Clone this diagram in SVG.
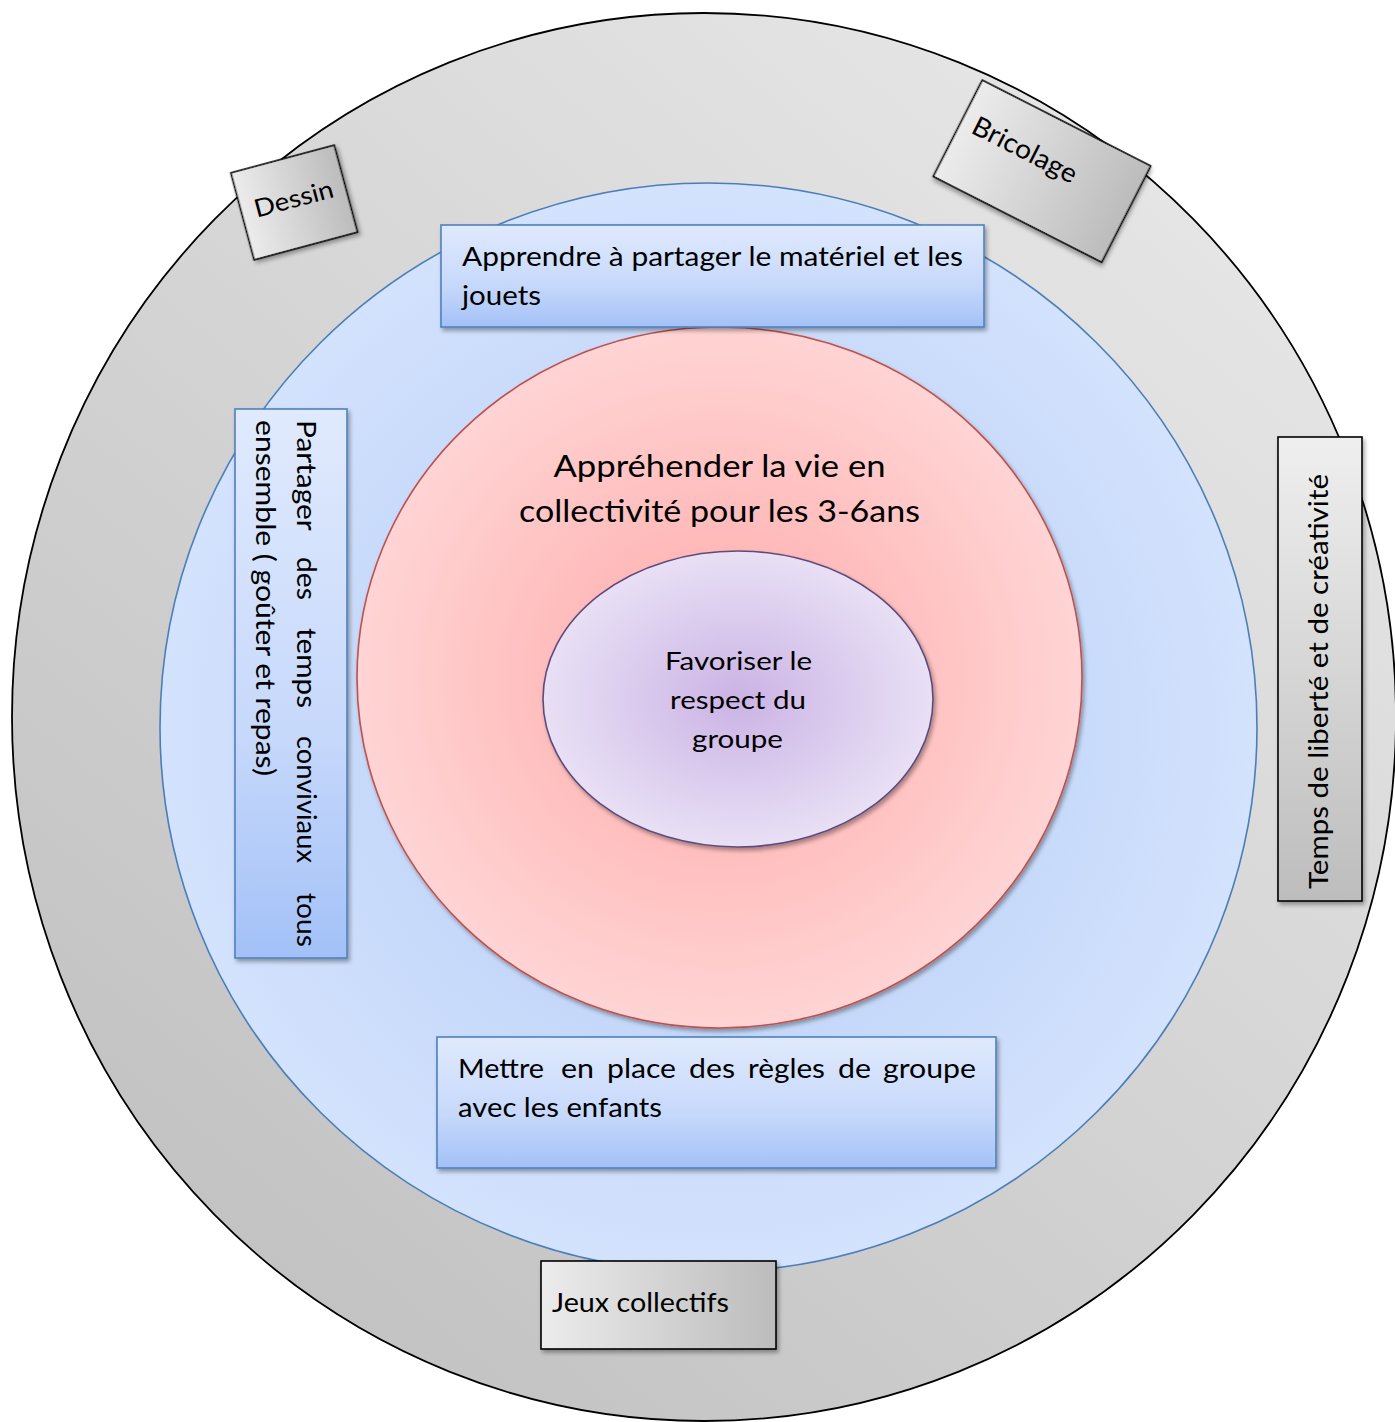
<svg xmlns="http://www.w3.org/2000/svg" width="1395" height="1422" viewBox="0 0 1395 1422">
<defs>
<style>
text{font-family:Lato,"Open Sans","Liberation Sans",sans-serif;fill:#000}
.box{font-size:27.5px}
.grey{stroke:#000;stroke-width:1.6}
.bluebox{fill:url(#gBlueBox);stroke:#4f81bd;stroke-width:1.6}
</style>
<linearGradient id="gOuter" x1="0.85" y1="0.1" x2="0.2" y2="0.9">
<stop offset="0" stop-color="#e6e6e6"/><stop offset="1" stop-color="#c3c3c3"/>
</linearGradient>
<radialGradient id="gBlue" cx="0.5" cy="0.5" r="0.5">
<stop offset="0" stop-color="#b3cbf5"/><stop offset="1" stop-color="#d3e2fd"/>
</radialGradient>
<radialGradient id="gRed" cx="0.5" cy="0.5" r="0.5">
<stop offset="0" stop-color="#ffa9a9"/><stop offset="1" stop-color="#ffd4d4"/>
</radialGradient>
<radialGradient id="gPurple" cx="0.5" cy="0.5" r="0.5">
<stop offset="0" stop-color="#cbb3e5"/><stop offset="1" stop-color="#e8e0f5"/>
</radialGradient>
<linearGradient id="gBlueBox" x1="0" y1="0" x2="0" y2="1">
<stop offset="0" stop-color="#e0eafd"/><stop offset="0.6" stop-color="#c6d8fb"/><stop offset="1" stop-color="#a3c1f7"/>
</linearGradient>
<linearGradient id="gGreyH" x1="0" y1="0" x2="1" y2="0">
<stop offset="0" stop-color="#ececec"/><stop offset="1" stop-color="#bcbcbc"/>
</linearGradient>
<linearGradient id="gGreyV" x1="0" y1="0" x2="0" y2="1">
<stop offset="0" stop-color="#efefef"/><stop offset="1" stop-color="#bdbdbd"/>
</linearGradient>
<filter id="sh" x="-10%" y="-10%" width="130%" height="130%">
<feDropShadow dx="2" dy="3" stdDeviation="2" flood-color="#000" flood-opacity="0.35"/>
</filter>
</defs>

<g id="outer">
<ellipse cx="704" cy="717" rx="692" ry="704" fill="url(#gOuter)" stroke="#000" stroke-width="1.8"/>
</g>
<g id="blue">
<ellipse cx="708.5" cy="727.5" rx="548.5" ry="544.5" fill="url(#gBlue)" stroke="#4a7ebb" stroke-width="1.6"/>
</g>
<g id="red">
<ellipse cx="719.5" cy="677.5" rx="362.5" ry="350.5" fill="url(#gRed)" stroke="#c0504d" stroke-width="1.6" filter="url(#sh)"/>
<text x="719.5" y="477" font-size="31" text-anchor="middle" textLength="332" lengthAdjust="spacingAndGlyphs">Appréhender la vie en</text>
<text x="719.5" y="522" font-size="31" text-anchor="middle" textLength="401" lengthAdjust="spacingAndGlyphs">collectivité pour les 3-6ans</text>
</g>
<g id="purple">
<ellipse cx="738" cy="699" rx="195" ry="148" fill="url(#gPurple)" stroke="#604a7b" stroke-width="1.6" filter="url(#sh)"/>
<text x="738.5" y="670" font-size="25" text-anchor="middle" textLength="147" lengthAdjust="spacingAndGlyphs">Favoriser le</text>
<text x="738" y="709" font-size="25" text-anchor="middle" textLength="136" lengthAdjust="spacingAndGlyphs">respect du</text>
<text x="737.5" y="748" font-size="25" text-anchor="middle" textLength="91" lengthAdjust="spacingAndGlyphs">groupe</text>
</g>

<g id="apprendre">
<rect class="bluebox" x="441" y="225" width="543" height="102" filter="url(#sh)"/>
<text class="box" x="462" y="266" textLength="501" lengthAdjust="spacingAndGlyphs">Apprendre à partager le matériel et les</text>
<text class="box" x="462" y="305" textLength="79" lengthAdjust="spacingAndGlyphs">jouets</text>
</g>

<g id="regles">
<rect class="bluebox" x="437" y="1037" width="559" height="131" filter="url(#sh)"/>
<text class="box" y="1078"><tspan x="458" textLength="86" lengthAdjust="spacingAndGlyphs">Mettre</tspan> <tspan x="561" textLength="33" lengthAdjust="spacingAndGlyphs">en</tspan> <tspan x="607" textLength="69" lengthAdjust="spacingAndGlyphs">place</tspan> <tspan x="689" textLength="46" lengthAdjust="spacingAndGlyphs">des</tspan> <tspan x="748" textLength="77" lengthAdjust="spacingAndGlyphs">règles</tspan> <tspan x="838" textLength="33" lengthAdjust="spacingAndGlyphs">de</tspan> <tspan x="883" textLength="93" lengthAdjust="spacingAndGlyphs">groupe</tspan></text>
<text class="box" x="458" y="1117" textLength="204" lengthAdjust="spacingAndGlyphs">avec les enfants</text>
</g>

<g id="partager">
<rect class="bluebox" x="235" y="409" width="112" height="549" filter="url(#sh)"/>
<text class="box" transform="rotate(90)" y="-297"><tspan x="420" textLength="110" lengthAdjust="spacingAndGlyphs">Partager</tspan> <tspan x="557" textLength="43" lengthAdjust="spacingAndGlyphs">des</tspan> <tspan x="628" textLength="80" lengthAdjust="spacingAndGlyphs">temps</tspan> <tspan x="736" textLength="127" lengthAdjust="spacingAndGlyphs">conviviaux</tspan> <tspan x="893" textLength="54" lengthAdjust="spacingAndGlyphs">tous</tspan></text>
<text class="box" transform="rotate(90)" x="420" y="-256" textLength="356" lengthAdjust="spacingAndGlyphs">ensemble ( goûter et repas)</text>
</g>

<g id="dessin" transform="translate(294.2,202.5) rotate(-15)">
<rect class="grey" x="-53.5" y="-45" width="107" height="90" fill="url(#gGreyH)" filter="url(#sh)"/>
<text x="-40" y="5" font-size="25" textLength="81" lengthAdjust="spacingAndGlyphs">Dessin</text>
</g>

<g id="bricolage" transform="translate(1042,171.2) rotate(27)">
<rect class="grey" x="-94.5" y="-54" width="189" height="108" fill="url(#gGreyH)" filter="url(#sh)"/>
<text x="-82" y="-2" font-size="27" textLength="114" lengthAdjust="spacingAndGlyphs">Bricolage</text>
</g>

<g id="temps">
<rect class="grey" x="1278" y="437" width="84" height="464" fill="url(#gGreyV)" filter="url(#sh)"/>
<text class="box" transform="translate(1328,889) rotate(-90)" x="0" y="0" textLength="415" lengthAdjust="spacingAndGlyphs">Temps de liberté et de créativité</text>
</g>

<g id="jeux">
<rect class="grey" x="541" y="1261" width="235" height="88" fill="url(#gGreyH)" filter="url(#sh)"/>
<text class="box" x="552" y="1312" textLength="177" lengthAdjust="spacingAndGlyphs">Jeux collectifs</text>
</g>

<g id="connectors"/>
</svg>
